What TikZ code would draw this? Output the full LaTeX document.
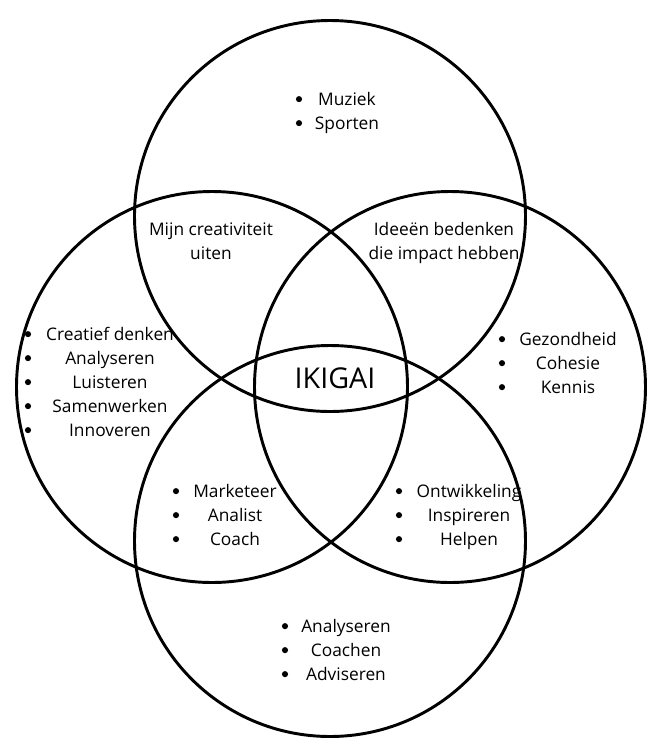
\documentclass[tikz,border=0pt]{standalone}
\usepackage{fontspec}
\setmainfont{Open Sans}

\begin{document}
\begin{tikzpicture}[x=0.75pt, y=-0.75pt, line width=2.2pt,
                    ring/.style={draw=black},
                    txt/.style={anchor=base, inner sep=0pt, font=\fontsize{13}{18}\selectfont, align=center},
                    dot/.style={circle, fill=black, inner sep=0pt, minimum size=4.6pt, yshift=4.4pt}]

                    \useasboundingbox (0,0) rectangle (670,740);

                    % centres of the four circles
                    \coordinate (top)    at (330,216);
                    \coordinate (left)   at (212,387);
                    \coordinate (right)  at (450,387);
                    \coordinate (bottom) at (330,541);

                    \draw[ring] (top) circle[radius=195.5];
                    \draw[ring] (left) circle[radius=195.5];
                    \draw[ring] (right) circle[radius=195.5];
                    \draw[ring] (bottom) circle[radius=195.5];

                    \node[txt, font=\fontsize{21.5}{24}\selectfont] (ikigai) at (335,388) {IKIGAI};

                    \node[txt] (creatief) at (211,259) {Mijn creativiteit\\uiten};
                    \node[txt] (impact) at (444,259) {Ideeën bedenken\\die impact hebben};

                    % top circle
                    \foreach \t/\y [count=\i] in {Muziek/105, Sporten/129} {
                        \node[dot] (tb\i) at (299,\y) {};
                        \node[txt] (tt\i) at (347,\y) {\t};
                    }
                    % left circle
                    \foreach \t/\y [count=\i] in {Creatief denken/340, Analyseren/364, Luisteren/388, Samenwerken/412, Innoveren/436} {
                        \node[dot] (lb\i) at (28,\y) {};
                        \node[txt] (lt\i) at (110,\y) {\t};
                    }
                    % right circle
                    \foreach \t/\y [count=\i] in {Gezondheid/345, Cohesie/369, Kennis/393} {
                        \node[dot] (rb\i) at (502,\y) {};
                        \node[txt] (rt\i) at (568,\y) {\t};
                    }
                    % left and bottom
                    \foreach \t/\y [count=\i] in {Marketeer/497, Analist/521, Coach/545} {
                        \node[dot] (mlb\i) at (176,\y) {};
                        \node[txt] (mlt\i) at (235,\y) {\t};
                    }
                    % right and bottom
                    \foreach \t/\y [count=\i] in {Ontwikkeling/497, Inspireren/521, Helpen/545} {
                        \node[dot] (mrb\i) at (399,\y) {};
                        \node[txt] (mrt\i) at (469,\y) {\t};
                    }
                    % bottom circle
                    \foreach \t/\y [count=\i] in {Analyseren/632, Coachen/656, Adviseren/680} {
                        \node[dot] (bb\i) at (285,\y) {};
                        \node[txt] (bt\i) at (346,\y) {\t};
                    }
                \end{tikzpicture}
\end{document}
